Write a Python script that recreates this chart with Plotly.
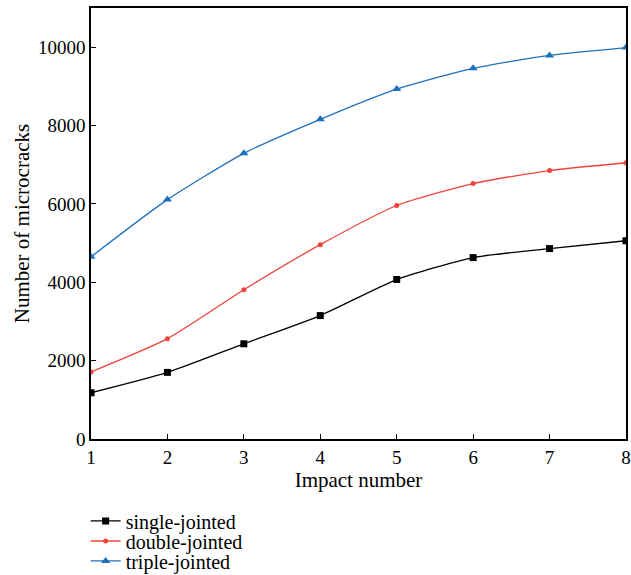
import plotly.graph_objects as go

impact = [1, 2, 3, 4, 5, 6, 7, 8]
single_jointed = [1180, 1700, 2430, 3150, 4070, 4630, 4860, 5060]
double_jointed = [1710, 2560, 3810, 4960, 5960, 6520, 6850, 7050]
triple_jointed = [4650, 6110, 7290, 8160, 8930, 9460, 9790, 9990]

series = [
    ("single-jointed", single_jointed, "#000000", "square", 7, "legend"),
    ("double-jointed", double_jointed, "#f0433a", "circle", 5, "legend2"),
    ("triple-jointed", triple_jointed, "#1f6fbf", "triangle-up", 8, "legend3"),
]

FONT = "Liberation Serif"

fig = go.Figure()
for name, vals, color, symbol, size, leg in series:
    fig.add_trace(go.Scatter(
        x=impact, y=vals, name=name, mode="lines+markers", legend=leg,
        showlegend=True,
        line=dict(color=color, width=1.3, shape="spline", smoothing=0.6),
        marker=dict(symbol=symbol, size=size, color=color),
    ))

axis_common = dict(
    showline=True, linecolor="black", linewidth=1.5, mirror=True,
    ticks="inside", ticklen=5, tickwidth=1, tickcolor="black",
    showgrid=False, zeroline=False,
    tickfont=dict(family=FONT, size=19, color="black"),
)

legend_common = dict(x=-0.01, xanchor="left", yanchor="middle",
                     font=dict(family=FONT, size=20, color="black"),
                     itemwidth=30, bgcolor="rgba(0,0,0,0)")

fig.update_layout(
    width=631, height=575,
    showlegend=True,
    margin=dict(l=91, r=5, t=8, b=136, autoexpand=False),
    plot_bgcolor="white", paper_bgcolor="white",
    font=dict(family=FONT, color="black"),
    xaxis=dict(range=[1, 8], dtick=1,
               title=dict(text="Impact number", font=dict(family=FONT, size=21), standoff=2),
               **axis_common),
    yaxis=dict(range=[0, 11000], dtick=2000, tickformat="d",
               title=dict(text="Number of microcracks", font=dict(family=FONT, size=21), standoff=3),
               **axis_common),
    legend=dict(y=-0.190, **legend_common),
    legend2=dict(y=-0.2367, **legend_common),
    legend3=dict(y=-0.283, **legend_common),
)

fig.write_html("out.html")
